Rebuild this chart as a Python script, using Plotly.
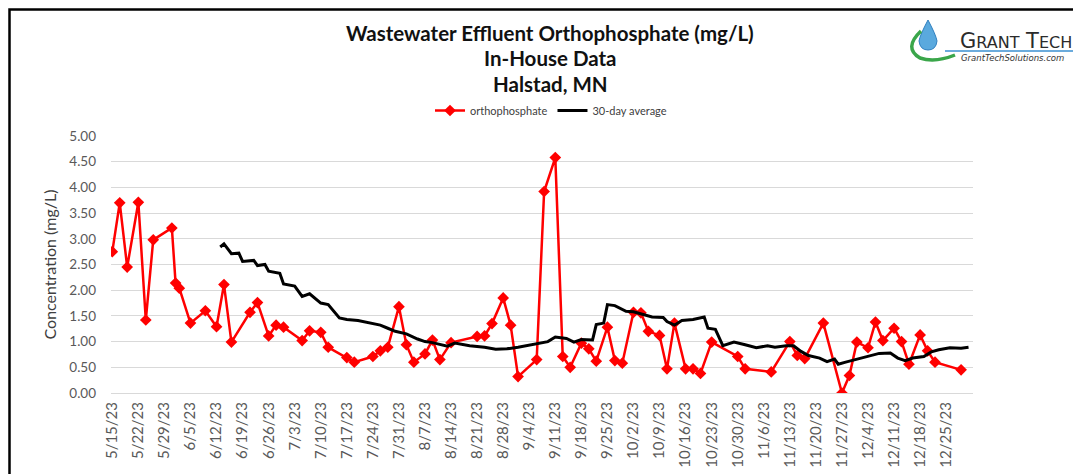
import plotly.graph_objects as go
import pandas as pd

# ---------------- data ----------------
ortho_dates = [
    "2023-05-15", "2023-05-17", "2023-05-19", "2023-05-22", "2023-05-24", "2023-05-26", "2023-05-31",
    "2023-06-01", "2023-06-02", "2023-06-05", "2023-06-09", "2023-06-12", "2023-06-14", "2023-06-16",
    "2023-06-21", "2023-06-23", "2023-06-26", "2023-06-28", "2023-06-30",
    "2023-07-05", "2023-07-07", "2023-07-10", "2023-07-12", "2023-07-17", "2023-07-19", "2023-07-24",
    "2023-07-26", "2023-07-28", "2023-07-31",
    "2023-08-02", "2023-08-04", "2023-08-07", "2023-08-09", "2023-08-11", "2023-08-14", "2023-08-21",
    "2023-08-23", "2023-08-25", "2023-08-28", "2023-08-30",
    "2023-09-01", "2023-09-06", "2023-09-08", "2023-09-11", "2023-09-13", "2023-09-15", "2023-09-18",
    "2023-09-20", "2023-09-22", "2023-09-25", "2023-09-27", "2023-09-29",
    "2023-10-02", "2023-10-04", "2023-10-06", "2023-10-09", "2023-10-11", "2023-10-13", "2023-10-16",
    "2023-10-18", "2023-10-20", "2023-10-23", "2023-10-30",
    "2023-11-01", "2023-11-08", "2023-11-13", "2023-11-15", "2023-11-17", "2023-11-22", "2023-11-27",
    "2023-11-29",
    "2023-12-01", "2023-12-04", "2023-12-06", "2023-12-08", "2023-12-11", "2023-12-13", "2023-12-15",
    "2023-12-18", "2023-12-20", "2023-12-22", "2023-12-29",
]
ortho_values = [
    2.75, 3.70, 2.45, 3.71, 1.42, 2.98, 3.21,
    2.14, 2.04, 1.36, 1.60, 1.29, 2.11, 0.99, 1.57, 1.76, 1.11, 1.32, 1.28,
    1.02, 1.21, 1.18, 0.89, 0.69, 0.60, 0.71, 0.82, 0.89, 1.68,
    0.94, 0.60, 0.76, 1.03, 0.65, 0.98, 1.10, 1.11, 1.35, 1.85, 1.32,
    0.32, 0.65, 3.92, 4.58, 0.71, 0.50, 0.97, 0.86, 0.62, 1.28, 0.63, 0.58,
    1.57, 1.56, 1.20, 1.12, 0.47, 1.36, 0.47, 0.47, 0.38, 0.99, 0.71,
    0.47, 0.41, 1.00, 0.73, 0.67, 1.36, 0.00, 0.34,
    0.99, 0.88, 1.38, 1.02, 1.26, 1.00, 0.56, 1.13, 0.82, 0.60, 0.45,
]

avg_dates = [
    "2023-06-13", "2023-06-14", "2023-06-16", "2023-06-18", "2023-06-19", "2023-06-22", "2023-06-23",
    "2023-06-25", "2023-06-26", "2023-06-29", "2023-06-30",
    "2023-07-03", "2023-07-05", "2023-07-07", "2023-07-10", "2023-07-12", "2023-07-15", "2023-07-17",
    "2023-07-20", "2023-07-23", "2023-07-26", "2023-07-28", "2023-07-30",
    "2023-08-02", "2023-08-05", "2023-08-07", "2023-08-09", "2023-08-13", "2023-08-15", "2023-08-19",
    "2023-08-23", "2023-08-26", "2023-08-29",
    "2023-09-01", "2023-09-04", "2023-09-06", "2023-09-09", "2023-09-11", "2023-09-14", "2023-09-16",
    "2023-09-18", "2023-09-21", "2023-09-22", "2023-09-24", "2023-09-25", "2023-09-27", "2023-09-30",
    "2023-10-02", "2023-10-05", "2023-10-07", "2023-10-10", "2023-10-11", "2023-10-13", "2023-10-15",
    "2023-10-18", "2023-10-21", "2023-10-22", "2023-10-24", "2023-10-26", "2023-10-29",
    "2023-11-01", "2023-11-04", "2023-11-07", "2023-11-09", "2023-11-12", "2023-11-14", "2023-11-16",
    "2023-11-18", "2023-11-21", "2023-11-23", "2023-11-25", "2023-11-26", "2023-11-28",
    "2023-12-01", "2023-12-04", "2023-12-07", "2023-12-10", "2023-12-12", "2023-12-14", "2023-12-16",
    "2023-12-19", "2023-12-21", "2023-12-23", "2023-12-26", "2023-12-29", "2023-12-31",
]
avg_values = [
    2.84, 2.90, 2.71, 2.72, 2.56, 2.58, 2.48,
    2.50, 2.37, 2.33, 2.12,
    2.08, 1.88, 1.93, 1.75, 1.72, 1.46, 1.43,
    1.41, 1.37, 1.32, 1.26, 1.20,
    1.15, 1.05, 1.00, 0.98, 0.91, 0.97, 0.92,
    0.89, 0.85, 0.86,
    0.89, 0.93, 0.96, 1.00, 1.09, 1.06, 0.99,
    1.04, 1.03, 1.33, 1.36, 1.72, 1.70, 1.59,
    1.58, 1.52, 1.48, 1.47, 1.39, 1.32, 1.41,
    1.43, 1.48, 1.26, 1.24, 0.92, 0.99,
    0.94, 0.88, 0.92, 0.89, 0.92, 0.92, 0.81,
    0.73, 0.68, 0.61, 0.66, 0.56, 0.60,
    0.66, 0.71, 0.77, 0.78, 0.68, 0.63, 0.68,
    0.71, 0.80, 0.84, 0.88, 0.87, 0.89,
]

tick_dates = pd.date_range("2023-05-15", "2023-12-25", freq="7D")
tick_labels = [f"{d.month}/{d.day}/{d.strftime('%y')}" for d in tick_dates]

title_lines = ["Wastewater Effluent Orthophosphate (mg/L)", "In-House Data", "Halstad, MN"]
y_title = "Concentration (mg/L)"

# ---------------- layout geometry ----------------
# the page body adds an 8px offset; work in screenshot pixels and convert
OX, OY = 8, 8
W, H = 1081 - OX, 474 - OY
L, R, T, B = 111 - OX, 973 - OX, 136 - OY, 393 - OY


def px(sx):
    return (sx - OX - L) / (R - L)


def py(sy):
    return (B - (sy - OY)) / (B - T)


FONT = "Lato, 'Open Sans', sans-serif"

fig = go.Figure()
fig.add_trace(go.Scatter(
    x=ortho_dates, y=ortho_values, name="orthophosphate", mode="lines+markers",
    line=dict(color="#ff0000", width=2.5),
    marker=dict(symbol="diamond", size=9, color="#ff0000"),
))
fig.add_trace(go.Scatter(
    x=avg_dates, y=avg_values, name="30-day average", mode="lines",
    line=dict(color="#000000", width=3),
))

annotations = []
for txt, yy in zip(title_lines, [33, 58, 84]):
    annotations.append(dict(
        text="<b>" + txt + "</b>", xref="paper", yref="paper", x=px(550), y=py(yy),
        xanchor="center", yanchor="middle", showarrow=False,
        font=dict(family=FONT, size=20.5, color="#111111"),
    ))

# logo text
annotations.append(dict(
    text="G<span style='font-size:16px'>RANT</span> T<span style='font-size:16px'>ECH</span>",
    xref="paper", yref="paper", x=px(1016), y=py(41), xanchor="center", yanchor="middle",
    showarrow=False, font=dict(family="'DejaVu Sans', sans-serif", size=21, color="#2b2b2b"),
))
annotations.append(dict(
    text="<i>GrantTechSolutions.com</i>", xref="paper", yref="paper", x=px(1012), y=py(58),
    xanchor="center", yanchor="middle", showarrow=False,
    font=dict(family="'DejaVu Sans', sans-serif", size=8.5, color="#333333"),
))

shapes = [
    # outer frame
    dict(type="rect", xref="paper", yref="paper", x0=px(9.5), x1=px(1100), y0=py(9.5), y1=py(500),
         line=dict(color="#000000", width=2.5), fillcolor="rgba(0,0,0,0)", layer="above"),
    # logo underline
    dict(type="line", xref="paper", yref="paper", x0=px(945), x1=px(1077), y0=py(51), y1=py(51),
         line=dict(color="#3a8fd0", width=1.5)),
    # logo drop
    dict(type="path", xref="paper", yref="paper",
         path=(f"M {px(928)},{py(20)} "
               f"Q {px(920)},{py(35)} {px(919)},{py(41)} "
               f"Q {px(920)},{py(50)} {px(928)},{py(50)} "
               f"Q {px(936)},{py(50)} {px(937)},{py(41)} "
               f"Q {px(936)},{py(35)} {px(928)},{py(20)} Z"),
         fillcolor="#5aa9de", line=dict(color="#2f7fbf", width=1)),
    # green swoosh
    dict(type="path", xref="paper", yref="paper",
         path=(f"M {px(921)},{py(31)} Q {px(903)},{py(48)} {px(920)},{py(58)} "
               f"Q {px(935)},{py(63)} {px(955)},{py(55)}"),
         line=dict(color="#3aa64a", width=3.5)),
]

fig.update_layout(
    width=W, height=H,
    margin=dict(l=L, r=W - R, t=T, b=H - B, pad=0, autoexpand=False),
    paper_bgcolor="white", plot_bgcolor="white",
    font=dict(family=FONT, color="#595959"),
    showlegend=True,
    legend=dict(orientation="h", xref="container", yref="container", x=(551 - OX) / W,
                y=1 - (96 - OY) / H, xanchor="center", yanchor="top",
                font=dict(size=11, color="#404040"),
                itemwidth=30, tracegroupgap=0, bgcolor="rgba(0,0,0,0)"),
    annotations=annotations,
    shapes=shapes,
    xaxis=dict(
        type="date", range=["2023-05-14 15:40", "2024-01-01 04:50"],
        tickmode="array", tickvals=list(tick_dates), ticktext=tick_labels,
        tickangle=-90, showgrid=False, zeroline=False, showline=False, ticks="",
        ticklabelstandoff=5,
        tickfont=dict(size=15, color="#595959"), automargin=False,
    ),
    yaxis=dict(
        range=[0, 5], dtick=0.5, tickformat=".2f", showgrid=True, gridcolor="#d9d9d9",
        gridwidth=1, zeroline=True, zerolinecolor="#d9d9d9", zerolinewidth=1, showline=False,
        ticks="", ticklabelstandoff=14, tickfont=dict(size=13.5, color="#595959"),
        automargin=False,
        title=dict(text=y_title, font=dict(size=16, color="#404040"), standoff=8),
    ),
)

fig.write_html("out.html")
